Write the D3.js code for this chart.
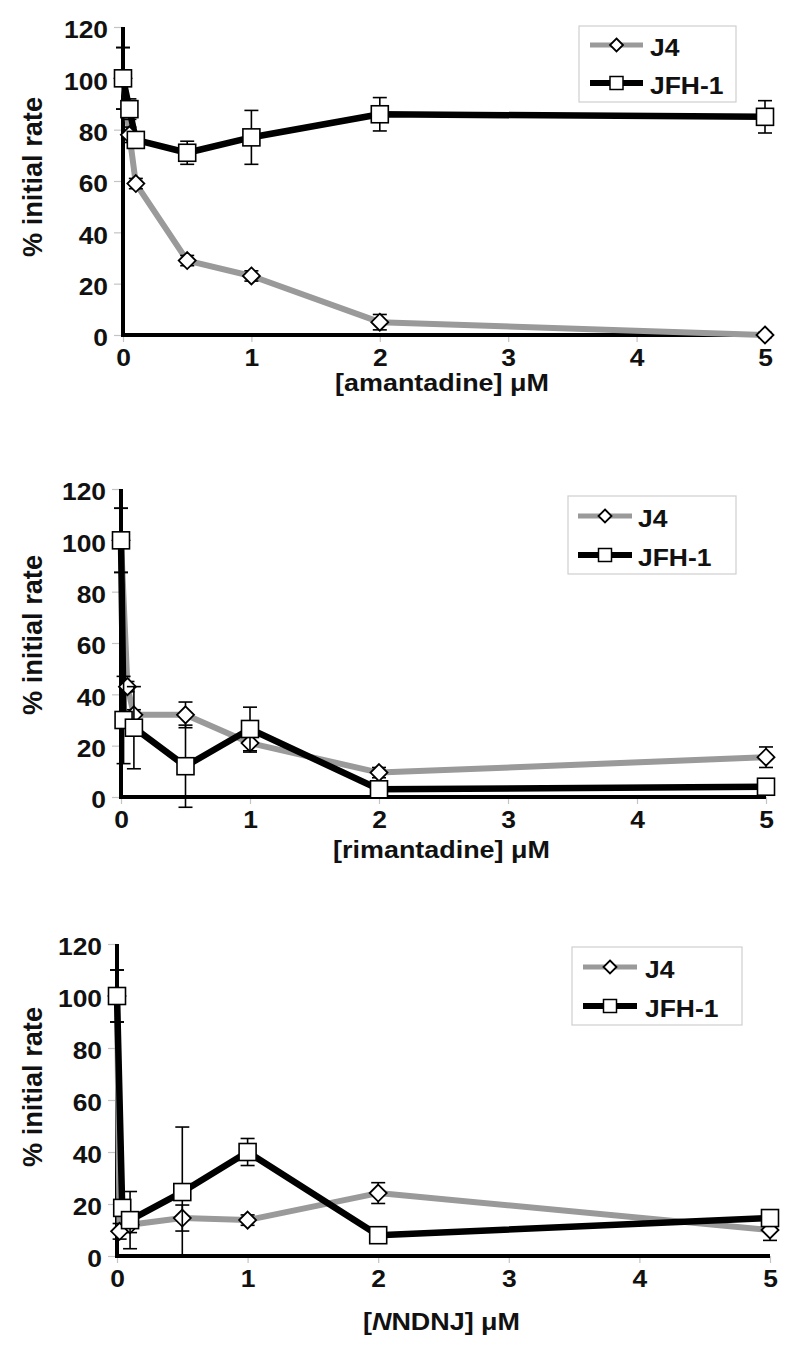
<!DOCTYPE html>
<html><head><meta charset="utf-8">
<script src="https://cdn.jsdelivr.net/npm/d3@7"></script>
<style>
body{margin:0;background:#fff}
text{font-family:"Liberation Sans",Arial,Helvetica,sans-serif;font-weight:bold;fill:#111}
</style>
</head><body>
<svg id="c" width="800" height="1355"></svg>
<script>
// ---------- data ----------
const xTicks = [0, 1, 2, 3, 4, 5];
const yTicks = [0, 20, 40, 60, 80, 100, 120];
const seriesNames = ["J4", "JFH-1"];

// amantadine
const amantJ4X   = [0, 0.05, 0.1, 0.5, 1, 2, 5];
const amantJ4    = [100, 78, 59, 29, 23, 5, 0];
const amantJ4Err = [12, 3, 2, 2, 2, 3, 1];
const amantJFHX   = [0, 0.05, 0.1, 0.5, 1, 2, 5];
const amantJFH    = [100, 88, 76, 71, 77, 86, 85];
const amantJFHErr = [12, 4, 3, 4.5, 10.5, 6.5, 6.3];

// rimantadine
const rimantJ4X   = [0, 0.05, 0.1, 0.5, 1, 2, 5];
const rimantJ4    = [100, 43, 32, 32, 21, 9.5, 15.5];
const rimantJ4Err = [12.5, 2, 2, 5, 3.5, 2, 4];
const rimantJFHX   = [0, 0.02, 0.1, 0.5, 1, 2, 5];
const rimantJFH    = [100, 30, 27, 12, 26.5, 3, 4];
const rimantJFHErr = [12.5, 17, 16, 16, 8.5, 1, 1];

// NNDNJ
const nndnjJ4X   = [0, 0.02, 0.1, 0.5, 1, 2, 5];
const nndnjJ4    = [100, 9.5, 12, 14.6, 13.8, 24.2, 10];
const nndnjJ4Err = [10, 3, 3, 5, 2, 4, 4];
const nndnjJFHX   = [0, 0.04, 0.1, 0.5, 1, 2, 5];
const nndnjJFH    = [100, 18.5, 13.8, 24.6, 40, 8, 14.6];
const nndnjJFHErr = [10, 3, 11, 25, 5.2, 1, 1];

// ---------- layout ----------
const panels = [
  {title: ["[amantadine] μM"], x0: 123, x1: 765, y0: 335, y1: 27, titleY: 383, ylabY: 177,
   leg: {x: 579, y: 26, w: 157, h: 76, lx0: 590, lx1: 643, ly1: 45, ly2: 83, tx: 650},
   j4: {x: amantJ4X, y: amantJ4, e: amantJ4Err}, jfh: {x: amantJFHX, y: amantJFH, e: amantJFHErr}},
  {title: ["[rimantadine] μM"], x0: 121, x1: 766, y0: 797, y1: 489, titleY: 850, ylabY: 635,
   leg: {x: 568, y: 496, w: 168, h: 78, lx0: 578, lx1: 632, ly1: 516, ly2: 555, tx: 638},
   j4: {x: rimantJ4X, y: rimantJ4, e: rimantJ4Err}, jfh: {x: rimantJFHX, y: rimantJFH, e: rimantJFHErr}},
  {title: ["[", "N", "NDNJ] μM"], x0: 117, x1: 770, y0: 1256, y1: 944, titleY: 1322, ylabY: 1087,
   leg: {x: 572, y: 947, w: 170, h: 78, lx0: 583, lx1: 637, ly1: 967, ly2: 1006, tx: 645},
   j4: {x: nndnjJ4X, y: nndnjJ4, e: nndnjJ4Err}, jfh: {x: nndnjJFHX, y: nndnjJFH, e: nndnjJFHErr}}
];

const K = 1.17; // horizontal stretch of the reference's glyphs
function stretch(sel, k) {
  sel.each(function () {
    const L = this.getComputedTextLength();
    this.setAttribute("textLength", L * k);
    this.setAttribute("lengthAdjust", "spacingAndGlyphs");
  });
}

const GRAY = "#9a9a9a";
const svg = d3.select("#c");

function diamond(cx, cy, r) {
  return `M${cx},${cy - r}L${cx + r},${cy}L${cx},${cy + r}L${cx - r},${cy}Z`;
}

panels.forEach(p => {
  const x = d3.scaleLinear().domain([0, 5]).range([p.x0, p.x1]);
  const y = d3.scaleLinear().domain([0, 120]).range([p.y0, p.y1]);
  const g = svg.append("g");

  // y axis ticks
  const ya = g.append("g").attr("transform", `translate(${p.x0},0)`)
    .call(d3.axisLeft(y).tickValues(yTicks).tickFormat(d3.format("d")).tickSize(9).tickPadding(6));
  ya.select(".domain").remove();
  ya.selectAll(".tick line").attr("stroke", "#c4c4c4").attr("stroke-width", 1.2);
  ya.selectAll(".tick text").attr("font-size", 24).attr("fill", "#111")
    .attr("font-family", '"Liberation Sans",Arial,sans-serif').attr("font-weight", "bold")
    .attr("dy", "0.45em");
  stretch(ya.selectAll(".tick text"), 1.1);

  // x axis ticks
  const xa = g.append("g").attr("transform", `translate(0,${p.y0})`)
    .call(d3.axisBottom(x).tickValues(xTicks).tickFormat(d3.format("d")).tickSize(7).tickPadding(7));
  xa.select(".domain").remove();
  xa.selectAll(".tick line").attr("stroke", "#c4c4c4").attr("stroke-width", 1.2);
  xa.selectAll(".tick text").attr("font-size", 24).attr("fill", "#111")
    .attr("font-family", '"Liberation Sans",Arial,sans-serif').attr("font-weight", "bold");
  stretch(xa.selectAll(".tick text"), 1.1);

  // axis lines
  g.append("line").attr("x1", p.x0).attr("x2", p.x0).attr("y1", y(0) + 2).attr("y2", y(120))
    .attr("stroke", "#000").attr("stroke-width", 4);
  g.append("line").attr("x1", p.x0 - 2).attr("x2", x(5)).attr("y1", y(0)).attr("y2", y(0))
    .attr("stroke", "#000").attr("stroke-width", 4);

  // axis titles
  const t = g.append("text").attr("x", (p.x0 + p.x1) / 2 - 2).attr("y", p.titleY)
    .attr("text-anchor", "middle").attr("dominant-baseline", "central").attr("font-size", 23);
  p.title.forEach((s, i) => {
    const ts = t.append("tspan").text(s);
    if (p.title.length > 1 && i === 1) ts.attr("font-style", "italic");
  });
  stretch(t, K);

  const yl = g.append("text").attr("transform", `translate(32,${p.ylabY}) rotate(-90) scale(1,1.12)`)
    .attr("text-anchor", "middle").attr("dominant-baseline", "central").attr("font-size", 25.5)
    .text("% initial rate");
  yl.attr("textLength", 160).attr("lengthAdjust", "spacingAndGlyphs");

  // series
  const line = d3.line().x(d => x(d[0])).y(d => y(d[1]));
  const j4pts = p.j4.x.map((v, i) => [v, p.j4.y[i], p.j4.e[i]]);
  const jfhpts = p.jfh.x.map((v, i) => [v, p.jfh.y[i], p.jfh.e[i]]);

  g.append("path").attr("d", line(j4pts)).attr("fill", "none").attr("stroke", GRAY)
    .attr("stroke-width", 6).attr("stroke-linejoin", "round");
  g.append("path").attr("d", line(jfhpts)).attr("fill", "none").attr("stroke", "#000")
    .attr("stroke-width", 6.5).attr("stroke-linejoin", "round");

  function errBars(pts) {
    const eg = g.append("g").attr("stroke", "#000").attr("stroke-width", 1.6);
    pts.forEach(d => {
      const cx = x(d[0]), lo = y(d[1] - d[2]), hi = y(d[1] + d[2]);
      eg.append("line").attr("x1", cx).attr("x2", cx).attr("y1", lo).attr("y2", hi);
      eg.append("line").attr("x1", cx - 7).attr("x2", cx + 7).attr("y1", lo).attr("y2", lo);
      eg.append("line").attr("x1", cx - 7).attr("x2", cx + 7).attr("y1", hi).attr("y2", hi);
    });
  }
  errBars(j4pts);
  g.selectAll(null).data(j4pts).enter().append("path")
    .attr("d", d => diamond(x(d[0]), y(d[1]), 8.5))
    .attr("fill", "#fff").attr("stroke", "#000").attr("stroke-width", 1.8);
  errBars(jfhpts);
  g.selectAll(null).data(jfhpts).enter().append("rect")
    .attr("x", d => x(d[0]) - 8.5).attr("y", d => y(d[1]) - 8.5)
    .attr("width", 17).attr("height", 17)
    .attr("fill", "#fff").attr("stroke", "#000").attr("stroke-width", 1.6);

  // legend
  const L = p.leg;
  g.append("rect").attr("x", L.x).attr("y", L.y).attr("width", L.w).attr("height", L.h)
    .attr("fill", "#fff").attr("stroke", "#cfcfcf").attr("stroke-width", 1.2);
  const mid = (L.lx0 + L.lx1) / 2;
  g.append("line").attr("x1", L.lx0).attr("x2", L.lx1).attr("y1", L.ly1).attr("y2", L.ly1)
    .attr("stroke", GRAY).attr("stroke-width", 5);
  g.append("path").attr("d", diamond(mid, L.ly1, 6.5)).attr("fill", "#fff")
    .attr("stroke", "#000").attr("stroke-width", 1.8);
  g.append("line").attr("x1", L.lx0).attr("x2", L.lx1).attr("y1", L.ly2).attr("y2", L.ly2)
    .attr("stroke", "#000").attr("stroke-width", 6);
  g.append("rect").attr("x", mid - 6.5).attr("y", L.ly2 - 6.5).attr("width", 13).attr("height", 13)
    .attr("fill", "#fff").attr("stroke", "#000").attr("stroke-width", 1.5);
  const lt = g.selectAll(null).data(seriesNames).enter().append("text")
    .attr("x", L.tx).attr("y", (d, i) => (i === 0 ? L.ly1 : L.ly2) + 3)
    .attr("dominant-baseline", "central").attr("font-size", 23).text(d => d);
  stretch(lt, 1.15);
});
</script>
</body></html>
